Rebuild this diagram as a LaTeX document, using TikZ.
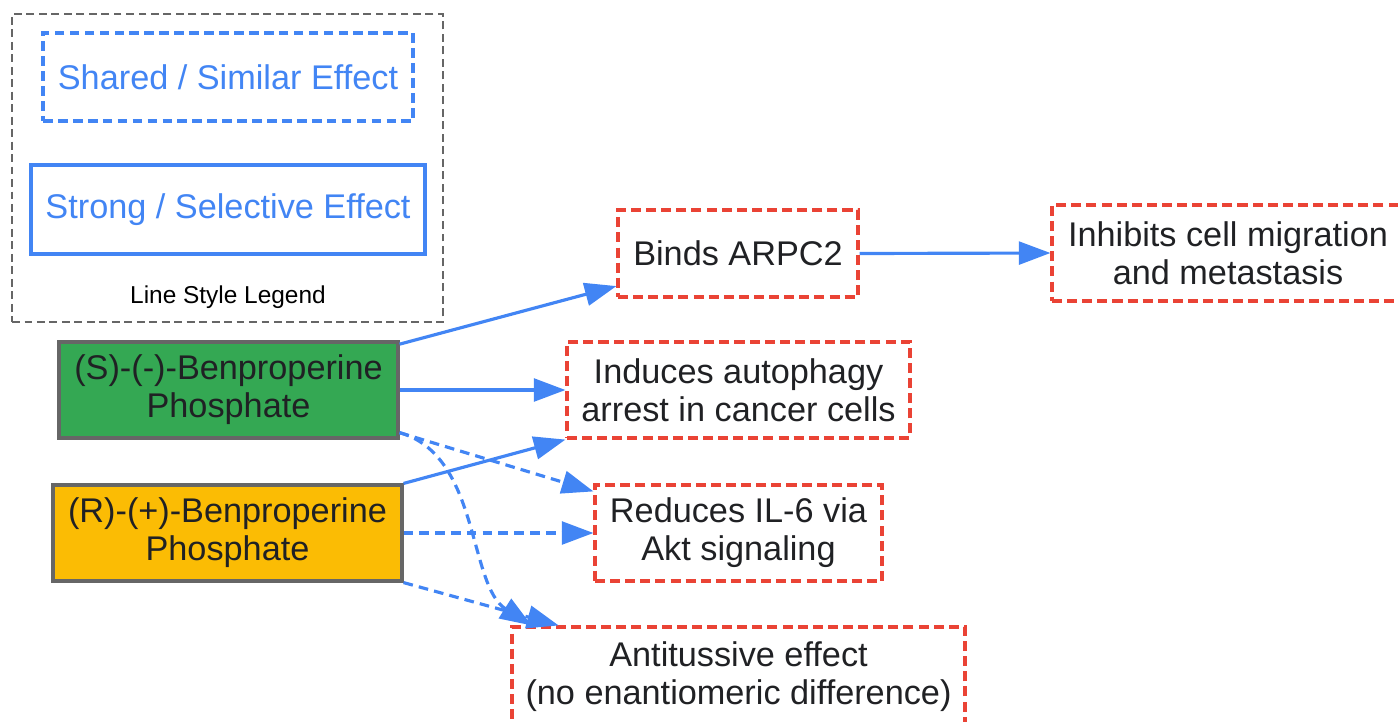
\documentclass[tikz,border=0pt]{standalone}
\usepackage{fontspec}
\setmainfont{Liberation Sans}
\usetikzlibrary{arrows.meta}

\definecolor{gblue}{HTML}{4285F4}
\definecolor{gred}{HTML}{EA4335}
\definecolor{ggreen}{HTML}{34A853}
\definecolor{gyellow}{HTML}{FBBC04}
\definecolor{ggray}{HTML}{666666}
\definecolor{gtext}{HTML}{202124}

\tikzset{
  effect/.style={draw=gred, line width=1.8pt, dash pattern=on 5.7pt off 2.9pt,
    align=center, text=gtext, inner sep=0pt, font=\fontsize{19.5}{21.5}\selectfont},
  drug/.style={draw=ggray, line width=1.8pt, align=center, text=gtext,
    inner sep=0pt, font=\fontsize{19.5}{21.5}\selectfont},
  strongarrow/.style={gblue, line width=1.8pt, -{Triangle[length=18pt,width=13pt]}},
  sharedarrow/.style={strongarrow, dash pattern=on 5.5pt off 3.5pt}
}

\begin{document}
\begin{tikzpicture}[x=0.02cm, y=-0.02cm]

\useasboundingbox (0,0) rectangle (1398,721);
\clip (0,0) rectangle (1398,721);

% legend
\node[draw=ggray, line width=1.2pt, dash pattern=on 4.5pt off 2.6pt,
  minimum width=8.62cm, minimum height=6.16cm] (legend) at (227.5,168) {};
\node[draw=gblue, line width=1.8pt, dash pattern=on 5.5pt off 3pt, text=gblue,
  font=\fontsize{19.5}{21.5}\selectfont, minimum width=7.4cm, minimum height=1.76cm]
  (shared) at (228,77) {Shared / Similar Effect};
\node[draw=gblue, line width=1.8pt, text=gblue,
  font=\fontsize{19.5}{21.5}\selectfont, minimum width=7.88cm, minimum height=1.78cm]
  (strong) at (228,209.5) {Strong / Selective Effect};
\node[font=\fontsize{13.9}{16}\selectfont] (legendtitle) at (228,297) {Line Style Legend};

% enantiomers
\node[drug, fill=ggreen, minimum width=6.78cm, minimum height=1.92cm]
  (S) at (228.5,390) {(S)-(-)-Benproperine\\Phosphate};
\node[drug, fill=gyellow, minimum width=6.98cm, minimum height=1.92cm]
  (R) at (227.5,533) {(R)-(+)-Benproperine\\Phosphate};

% effects
\node[effect, minimum width=4.8cm, minimum height=1.74cm]
  (binds) at (738,253.5) {Binds ARPC2};
\node[effect, minimum width=7.04cm, minimum height=1.92cm]
  (inhibits) at (1228,253) {Inhibits cell migration\\and metastasis};
\node[effect, minimum width=6.86cm, minimum height=1.92cm]
  (induces) at (738.5,390) {Induces autophagy\\arrest in cancer cells};
\node[effect, minimum width=5.74cm, minimum height=1.92cm]
  (reduces) at (738.5,533) {Reduces IL-6 via\\Akt signaling};
\node[effect, minimum width=9.06cm, minimum height=2cm]
  (anti) at (738.5,677) {Antitussive effect\\(no enantiomeric difference)};

% strong effects
\draw[strongarrow] (S.15) -- (binds.195);
\draw[strongarrow] (S.east) -- (induces.west);
\draw[strongarrow] (R.north east) -- (induces.south west);
\draw[strongarrow] (binds.east) -- (inhibits.west);

% shared effects
\draw[sharedarrow] (S.-14) -- (reduces.164);
\draw[sharedarrow] (S.-14) .. controls (480,455) and (468,585) .. (anti.166);
\draw[sharedarrow] (R.east) -- (reduces.west);
\draw[sharedarrow] (R.south east) -- (anti.164);

\end{tikzpicture}
\end{document}
